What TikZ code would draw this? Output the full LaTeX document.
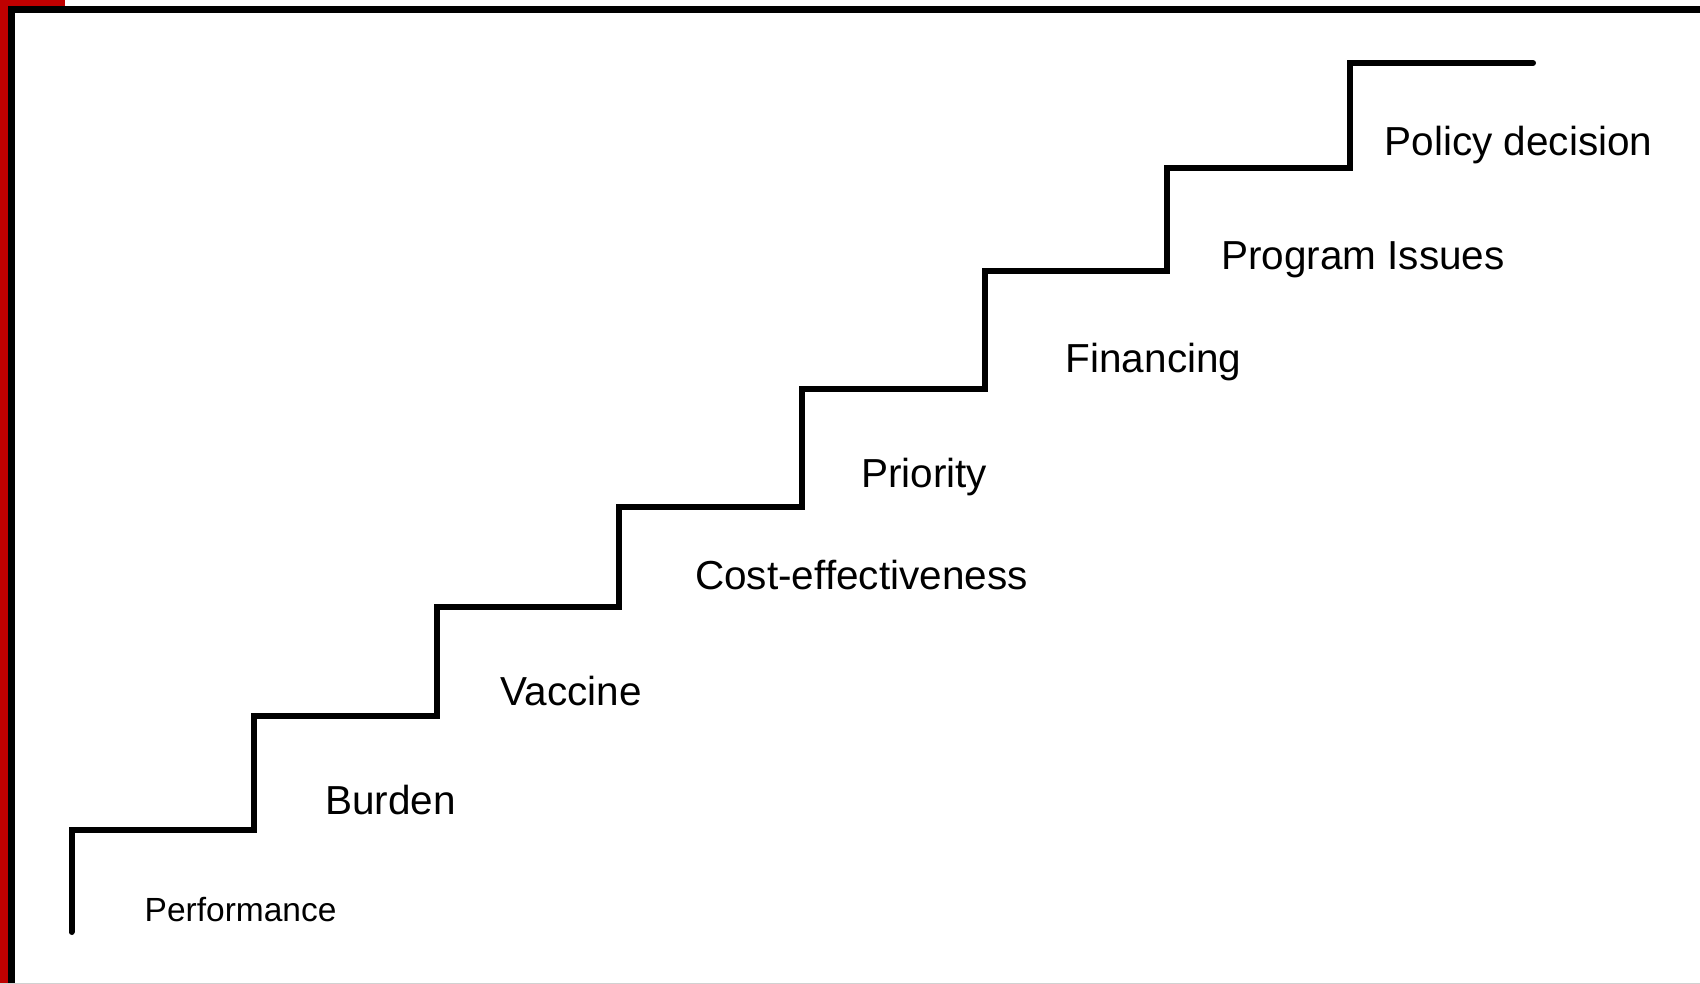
\documentclass[tikz,border=0pt]{standalone}
\usepackage{fontspec}
\setmainfont{Liberation Sans}
\begin{document}
\begin{tikzpicture}[x=1pt,y=-1pt,
  stairline/.style={line width=6pt,line cap=round,line join=miter},
  steplabel/.style={anchor=base west,inner sep=0pt,font=\fontsize{40.5}{48}\selectfont},
  smalllabel/.style={anchor=base west,inner sep=0pt,font=\fontsize{33.5}{40}\selectfont}]
\useasboundingbox (0,0) rectangle (1700,984);
\fill[white] (0,0) rectangle (1700,984);
% frame: red edge with a black rule inside
\fill[red!75!black] (0,0) rectangle (8,984);
\fill[red!75!black] (0,0) rectangle (65,6);
\fill[black] (8,6) rectangle (15,984);
\fill[black] (8,6) rectangle (1700,13);
\fill[black!18] (0,982.5) rectangle (1700,984);
% staircase
\draw[stairline] (71.5,932) -- (71.5,829.5) -- (253.5,829.5) -- (253.5,715.5)
  -- (437,715.5) -- (437,607) -- (619,607) -- (619,506.5) -- (802,506.5)
  -- (802,389) -- (984.5,389) -- (984.5,271) -- (1166.5,271) -- (1166.5,168)
  -- (1350,168) -- (1350,63) -- (1533,63);
% step labels
\node[smalllabel] (perf) at (144.5,921) {Performance};
\node[steplabel] (burden) at (325,814) {Burden};
\node[steplabel] (vaccine) at (500.5,705) {Vaccine};
\node[steplabel] (cost) at (695,589) {Cost-effectiveness};
\node[steplabel] (priority) at (861,487.5) {Priority};
\node[steplabel] (financing) at (1065.5,372) {Financing};
\node[steplabel] (program) at (1221,269.5) {Program Issues};
\node[steplabel] (policy) at (1384.5,156) {Policy decision};
\end{tikzpicture}
\end{document}
